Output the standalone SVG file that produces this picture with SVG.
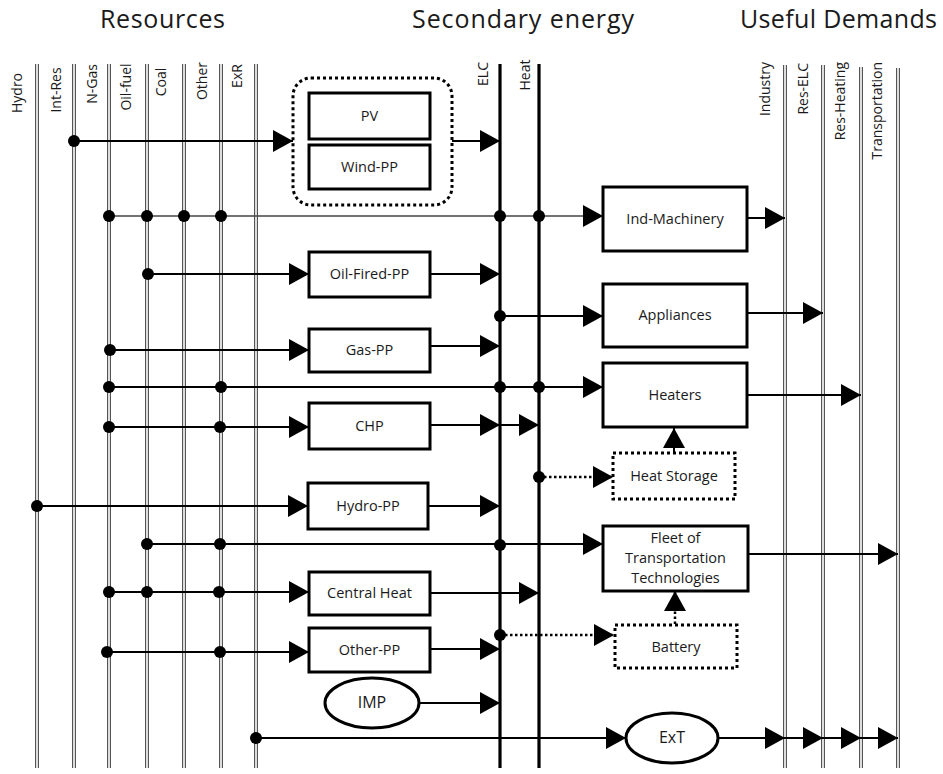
<svg xmlns="http://www.w3.org/2000/svg" width="943" height="774" viewBox="0 0 943 774">
<defs>
<marker id="ah" markerUnits="userSpaceOnUse" markerWidth="20" markerHeight="22" refX="20" refY="11" orient="auto">
<path d="M0,0 L20,11 L0,22 z" fill="#000"/>
</marker>
<style>
text{font-family:"Open Sans","Liberation Sans",sans-serif;fill:#1a1a1a}
.title{font-size:25px}
.lab{font-size:14px}
.nt{font-size:14.5px;text-anchor:middle}
.dbo{stroke:#555;stroke-width:4;fill:none}
.dbi{stroke:#fff;stroke-width:1.6;fill:none}
.bus{stroke:#000;stroke-width:3.2;fill:none}
.box{fill:#fff;stroke:#000;stroke-width:3}
.dbox{fill:#fff;stroke:#000;stroke-width:3;stroke-dasharray:3 3}
.c{stroke:#000;stroke-width:2;fill:none}
.ca{stroke:#000;stroke-width:2;fill:none;marker-end:url(#ah)}
.thin{stroke:#444;stroke-width:1.5;fill:none;marker-end:url(#ah)}
.dot{stroke:#000;stroke-width:2.5;stroke-dasharray:2.5 2.5;fill:none;marker-end:url(#ah)}
.j{fill:#000}
</style>
</defs>
<rect width="943" height="774" fill="#fff"/>
<g id="titles">
<text class="title" x="100" y="28" textLength="125" lengthAdjust="spacing">Resources</text>
<text class="title" x="412" y="28" textLength="222" lengthAdjust="spacing">Secondary energy</text>
<text class="title" x="740" y="28" textLength="197" lengthAdjust="spacing">Useful Demands</text>
</g>
<g id="resource-lines">
<path class="dbo" d="M37,64V768M74,64V768M109,64V768M147,64V768M184,64V768M221,64V768M256,64V768"/>
<path class="dbi" d="M37,64V768M74,64V768M109,64V768M147,64V768M184,64V768M221,64V768M256,64V768"/>
<text class="lab" text-anchor="middle" transform="translate(22,93) rotate(-90)">Hydro</text>
<text class="lab" text-anchor="middle" transform="translate(61,90) rotate(-90)">Int-Res</text>
<text class="lab" text-anchor="middle" transform="translate(97,84) rotate(-90)">N-Gas</text>
<text class="lab" text-anchor="middle" transform="translate(131,87) rotate(-90)">Oil-fuel</text>
<text class="lab" text-anchor="middle" transform="translate(166,82) rotate(-90)">Coal</text>
<text class="lab" text-anchor="middle" transform="translate(207,81) rotate(-90)">Other</text>
<text class="lab" text-anchor="middle" transform="translate(242,76) rotate(-90)">ExR</text>
</g>
<g id="secondary-lines">
<path class="bus" d="M500,64V768M539,64V768"/>
<text class="lab" text-anchor="middle" transform="translate(488,74) rotate(-90)">ELC</text>
<text class="lab" text-anchor="middle" transform="translate(530,75) rotate(-90)">Heat</text>
</g>
<g id="demand-lines">
<path class="dbo" d="M785,65V768M823,65V768M861,67V768M898,68V768"/>
<path class="dbi" d="M785,65V768M823,65V768M861,67V768M898,68V768"/>
<text class="lab" text-anchor="end" transform="translate(770,62) rotate(-90)">Industry</text>
<text class="lab" text-anchor="end" transform="translate(808,63) rotate(-90)">Res-ELC</text>
<text class="lab" text-anchor="end" transform="translate(845,62) rotate(-90)">Res-Heating</text>
<text class="lab" text-anchor="end" transform="translate(882,62) rotate(-90)">Transportation</text>
</g>
<g id="connectors">
<path class="ca" d="M74,141H293"/>
<path class="ca" d="M452,141H500"/>
<path class="thin" d="M109,216H603"/>
<path class="ca" d="M747,218H785"/>
<path class="ca" d="M148,274H309"/>
<path class="ca" d="M430,274H500"/>
<path class="ca" d="M500,316H603"/>
<path class="ca" d="M747,313H823"/>
<path class="ca" d="M110,350H309"/>
<path class="ca" d="M430,346H500"/>
<path class="ca" d="M109,387H603"/>
<path class="ca" d="M747,395H861"/>
<path class="ca" d="M109,427H309"/>
<path class="ca" d="M430,425H500"/>
<path class="ca" d="M500,425H539"/>
<path class="dot" d="M539,477H613"/>
<path class="ca" d="M674,452V428"/>
<path class="ca" d="M37,506H308"/>
<path class="ca" d="M428,506H500"/>
<path class="ca" d="M147,544H603"/>
<path class="ca" d="M748,554H898"/>
<path class="ca" d="M109,592H309"/>
<path class="ca" d="M430,593H539"/>
<path class="dot" d="M500,635H614"/>
<path class="dot" d="M675,624V591"/>
<path class="ca" d="M108,652H309"/>
<path class="ca" d="M430,649H500"/>
<path class="ca" d="M419,703H500"/>
<path class="ca" d="M256,738H626"/>
<path class="ca" d="M718,738H785"/>
<path class="ca" d="M785,738H823"/>
<path class="ca" d="M823,738H861"/>
<path class="ca" d="M861,738H898"/>
<g class="j">
<circle cx="74" cy="141" r="6"/>
<circle cx="109" cy="216" r="6"/><circle cx="147" cy="216" r="6"/><circle cx="184" cy="216" r="6"/><circle cx="221" cy="216" r="6"/><circle cx="500" cy="216" r="6"/><circle cx="539" cy="216" r="6"/>
<circle cx="148" cy="274" r="6"/>
<circle cx="500" cy="316" r="6"/>
<circle cx="110" cy="350" r="6"/>
<circle cx="109" cy="387" r="6"/><circle cx="221" cy="387" r="6"/><circle cx="500" cy="387" r="6"/><circle cx="539" cy="387" r="6"/>
<circle cx="109" cy="427" r="6"/><circle cx="220" cy="427" r="6"/>
<circle cx="539" cy="477" r="6"/>
<circle cx="37" cy="506" r="6"/>
<circle cx="147" cy="544" r="6"/><circle cx="220" cy="544" r="6"/><circle cx="500" cy="545" r="6"/>
<circle cx="109" cy="592" r="6"/><circle cx="147" cy="592" r="6"/><circle cx="219" cy="592" r="6"/>
<circle cx="500" cy="635" r="6"/>
<circle cx="107" cy="652" r="6"/><circle cx="220" cy="652" r="6"/>
<circle cx="256" cy="738" r="6"/>
</g>
</g>
<g id="renewables">
<rect class="dbox" x="293" y="78" width="159" height="127" rx="18"/>
</g>
<g id="pv"><rect class="box" x="309" y="93" width="121" height="46"/><text class="nt" x="369.5" y="121">PV</text></g>
<g id="wind-pp"><rect class="box" x="309" y="145" width="121" height="44"/><text class="nt" x="369.5" y="172">Wind-PP</text></g>
<g id="oil-fired-pp"><rect class="box" x="309" y="252" width="121" height="45"/><text class="nt" x="369.5" y="279">Oil-Fired-PP</text></g>
<g id="gas-pp"><rect class="box" x="309" y="329" width="121" height="43"/><text class="nt" x="369.5" y="355">Gas-PP</text></g>
<g id="chp"><rect class="box" x="309" y="403" width="121" height="46"/><text class="nt" x="369.5" y="431">CHP</text></g>
<g id="hydro-pp"><rect class="box" x="308" y="483" width="120" height="46"/><text class="nt" x="368" y="511">Hydro-PP</text></g>
<g id="central-heat"><rect class="box" x="309" y="572" width="121" height="43"/><text class="nt" x="369.5" y="598">Central Heat</text></g>
<g id="other-pp"><rect class="box" x="309" y="628" width="121" height="44"/><text class="nt" x="369.5" y="655">Other-PP</text></g>
<g id="imp"><ellipse class="box" cx="372" cy="703" rx="47" ry="25"/><text class="nt" x="372" y="708" style="font-size:16px">IMP</text></g>
<g id="ind-machinery"><rect class="box" x="603" y="187" width="144" height="64"/><text class="nt" x="675" y="224">Ind-Machinery</text></g>
<g id="appliances"><rect class="box" x="603" y="284" width="144" height="63"/><text class="nt" x="675" y="320">Appliances</text></g>
<g id="heaters"><rect class="box" x="603" y="363" width="144" height="64"/><text class="nt" x="675" y="400">Heaters</text></g>
<g id="heat-storage"><rect class="dbox" x="613" y="453" width="122" height="46"/><text class="nt" x="674" y="481">Heat Storage</text></g>
<g id="fleet"><rect class="box" x="603" y="526" width="145" height="65"/><text class="nt" x="675.5" y="543">Fleet of</text><text class="nt" x="675.5" y="563">Transportation</text><text class="nt" x="675.5" y="583">Technologies</text></g>
<g id="battery"><rect class="dbox" x="615" y="625" width="122" height="43"/><text class="nt" x="676" y="652">Battery</text></g>
<g id="ext"><ellipse class="box" cx="672" cy="738" rx="46" ry="25"/><text class="nt" x="672" y="743" style="font-size:16px">ExT</text></g>
</svg>
